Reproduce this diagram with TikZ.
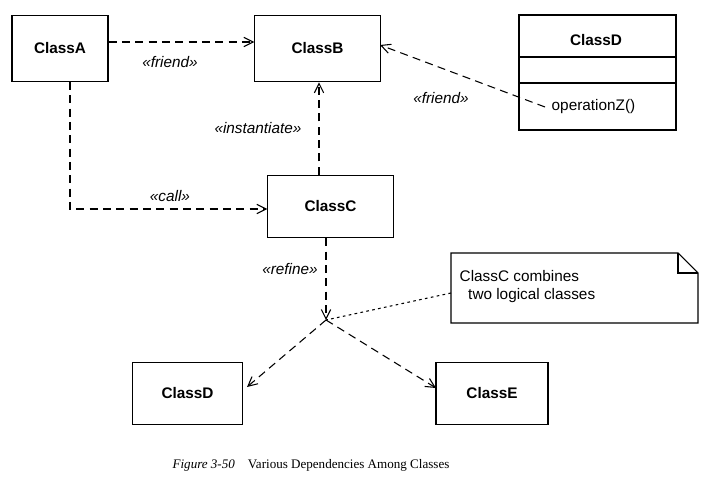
\documentclass[tikz,border=0pt]{standalone}
\usepackage{fontspec}
\setmainfont{Liberation Sans}
\newfontfamily\capfont{Liberation Serif}
\usetikzlibrary{calc,arrows.meta}

\tikzset{
  cls/.style={draw, thick, inner sep=0pt, font=\fontsize{11.5}{13}\selectfont\bfseries},
  dep/.style={thick, dash pattern=on 6pt off 4pt, -{Straight Barb[length=7pt,width=7pt]}},
  stereo/.style={font=\fontsize{11.5}{13}\selectfont\itshape, inner sep=1pt},
}

\begin{document}
\begin{tikzpicture}[x=0.75pt,y=-0.75pt]
    \useasboundingbox (0,0) rectangle (706,495);

    % classes
    \node[cls, minimum width=72pt, minimum height=50pt] (class_a) at (60,48.5) {ClassA};
    \node[cls, minimum width=94pt, minimum height=50pt] (class_b) at (317.5,48.5) {ClassB};
    \node[cls, minimum width=94pt, minimum height=47pt] (class_c) at (330.5,206.5) {ClassC};
    \node[cls, minimum width=83pt, minimum height=47pt] (class_d2) at (187.5,393.5) {ClassD};
    \node[cls, minimum width=84pt, minimum height=47pt] (class_e) at (492,393.5) {ClassE};

    % class with compartments
    \draw[thick] (519,15) rectangle (676,130);
    \draw[thick] (519,57) -- (676,57);
    \draw[thick] (519,83) -- (676,83);
    \node[font=\fontsize{11.5}{13}\selectfont\bfseries] (class_d) at (596,40) {ClassD};
    \node[anchor=west, font=\fontsize{11.5}{13}\selectfont] (op_z) at (547,107) {operationZ()};

    % note
    \draw[thick] (451,253) -- (678,253) -- (698,273) -- (698,323) -- (451,323) -- cycle;
    \draw[thick] (678,253) -- (678,273) -- (698,273);
    \node[anchor=north west, align=left, font=\fontsize{11.5}{13}\selectfont] (note) at (455,266)
    {ClassC combines\\ \ \ two logical classes};
    \coordinate (note_w) at (451,293);

    % dependencies
    \draw[dep] (class_a.east |- 0,42) -- (class_b.west |- 0,42);
    \node[stereo] at (170,62) {«friend»};

    \coordinate (a_bend) at (70,209);
    \draw[dep] (70,82) -- (a_bend) -- (class_c.west |- a_bend);
    \node[stereo] at (170,196) {«call»};

    \draw[dep] (class_c.north -| 319,0) -- (class_b.south -| 319,0);
    \node[stereo] at (258,128) {«instantiate»};

    \coordinate (op_w) at (545,107);
    \draw[dep] (op_w) -- (380,45);
    \node[stereo] at (441,98) {«friend»};

    % refine
    \coordinate (fork) at (326,320);
    \draw[dep] (class_c.south -| fork) -- (fork);
    \node[stereo] at (290,269) {«refine»};
    \draw[dep] (fork) -- (247,387);
    \draw[dep] (fork) -- (436,388);
    \draw[thick, dash pattern=on 2pt off 2.5pt] (note_w) -- (fork);

    % caption
    \node[font=\capfont\fontsize{9.8}{11}\selectfont] (caption) at (311,465)
    {\textit{Figure 3-50}\quad Various Dependencies Among Classes};
\end{tikzpicture}
\end{document}
